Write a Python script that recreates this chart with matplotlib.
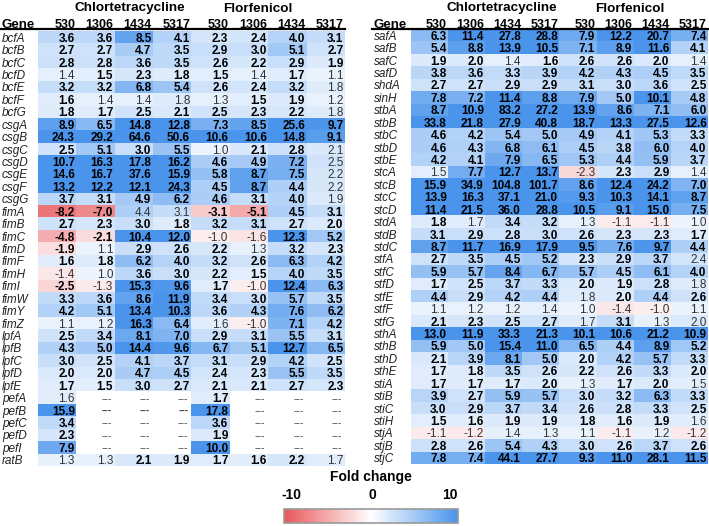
import numpy as np
import matplotlib.pyplot as plt
from matplotlib.colors import LinearSegmentedColormap

plt.rcParams['font.family'] = ['Liberation Sans', 'DejaVu Sans']
plt.rcParams['axes.unicode_minus'] = False

drugs = ['Chlortetracycline', 'Florfenicol']
strains = ['530', '1306', '1434', '5317']

# fold change per gene: CTC 530,1306,1434,5317 then FFC 530,1306,1434,5317 (None = ---)
genes_left = ['bcfA', 'bcfB', 'bcfC', 'bcfD', 'bcfE', 'bcfF', 'bcfG',
              'csgA', 'csgB', 'csgC', 'csgD', 'csgE', 'csgF', 'csgG',
              'fimA', 'fimB', 'fimC', 'fimD', 'fimF', 'fimH', 'fimI', 'fimW', 'fimY', 'fimZ',
              'lpfA', 'lpfB', 'lpfC', 'lpfD', 'lpfE',
              'pefA', 'pefB', 'pefC', 'pefD', 'pefI', 'ratB']
fc_left = [
    [3.6, 3.6, 8.5, 4.1, 2.3, 2.4, 4.0, 3.1],
    [2.7, 2.7, 4.7, 3.5, 2.9, 3.0, 5.1, 2.7],
    [2.8, 2.8, 3.6, 3.5, 2.6, 2.2, 2.9, 1.9],
    [1.4, 1.5, 2.3, 1.8, 1.5, 1.4, 1.7, 1.1],
    [3.2, 3.2, 6.8, 5.4, 2.6, 2.4, 3.2, 1.8],
    [1.6, 1.4, 1.4, 1.8, 1.3, 1.5, 1.9, 1.2],
    [1.8, 1.7, 2.5, 2.1, 2.5, 2.3, 2.2, 1.8],
    [8.9, 6.5, 14.8, 12.8, 7.3, 8.5, 25.6, 9.7],
    [24.3, 29.2, 64.6, 50.6, 10.6, 10.6, 14.8, 9.1],
    [2.5, 5.1, 3.0, 5.5, 1.0, 2.1, 2.8, 2.1],
    [10.7, 16.3, 17.8, 16.2, 4.6, 4.9, 7.2, 2.5],
    [14.6, 16.7, 37.6, 15.9, 5.8, 8.7, 7.5, 2.2],
    [13.2, 12.2, 12.1, 24.3, 4.5, 8.7, 4.4, 2.2],
    [3.7, 3.1, 4.9, 6.2, 4.6, 3.1, 4.0, 1.9],
    [-8.2, -7.0, 4.4, 3.1, -3.1, -5.1, 4.5, 3.1],
    [2.7, 2.3, 3.0, 1.8, 3.2, 3.1, 2.7, 2.0],
    [-4.8, -2.1, 10.4, 12.0, -1.0, -1.6, 12.3, 5.2],
    [-1.9, 1.1, 2.9, 2.6, 2.2, 1.3, 3.2, 2.3],
    [1.6, 1.8, 6.2, 4.0, 3.2, 2.6, 6.3, 4.2],
    [-1.4, 1.0, 3.6, 3.0, 2.2, 1.5, 4.0, 3.5],
    [-2.5, -1.3, 15.3, 9.6, 1.7, -1.0, 12.4, 6.3],
    [3.3, 3.6, 8.6, 11.9, 3.4, 3.0, 5.7, 3.5],
    [4.2, 5.1, 13.4, 10.3, 3.6, 4.3, 7.6, 6.2],
    [1.1, 1.2, 16.3, 6.4, 1.6, -1.0, 7.1, 4.2],
    [2.5, 3.4, 8.1, 7.0, 2.9, 3.1, 5.5, 3.1],
    [4.3, 5.0, 14.4, 9.6, 6.7, 5.1, 12.7, 6.5],
    [3.0, 2.5, 4.1, 3.7, 3.1, 2.9, 4.2, 2.5],
    [2.0, 2.0, 4.7, 4.5, 2.4, 2.3, 5.5, 3.5],
    [1.7, 1.5, 3.0, 2.7, 2.1, 2.1, 2.7, 2.3],
    [1.6, None, None, None, 1.7, None, None, None],
    [15.9, None, None, None, 17.8, None, None, None],
    [3.4, None, None, None, 3.6, None, None, None],
    [2.3, None, None, None, 1.9, None, None, None],
    [7.9, None, None, None, 10.0, None, None, None],
    [1.3, 1.3, 2.1, 1.9, 1.7, 1.6, 2.2, 1.7],
]
# b = bold (significant), n = normal weight
wt_left = ['bbbbbbbb', 'bbbbbbbb', 'bbbbbbbb', 'nbbbbnbn', 'bbbbbbbn', 'bnnnnbbn', 'bbbbbbbn',
           'bbbbbbbb', 'bbbbbbbb', 'bbbbnbbn', 'bbbbbbbn', 'bbbbbbbn', 'bbbbbbbn', 'bbbbbbbn',
           'bbnnbbbb', 'bbbbbbbb', 'bbbbnnbb', 'bnbbbnbb', 'bbbbbbbb', 'nnbbbbbb', 'bnbbbnbb',
           'bbbbbbbb', 'bbbbbbbb', 'nnbbnnbb',
           'bbbbbbbb', 'bbbbbbbb', 'bbbbbbbb', 'bbbbbbbb', 'bbbbbbbb',
           'nnnnbnnn', 'bbbbbnnn', 'bnnnbnnn', 'bnnnbnnn', 'bnnnbnnn', 'nnbbbbbn']

genes_right = ['safA', 'safB', 'safC', 'safD', 'shdA', 'sinH',
               'stbA', 'stbB', 'stbC', 'stbD', 'stbE',
               'stcA', 'stcB', 'stcC', 'stcD', 'stdA', 'stdB', 'stdC',
               'stfA', 'stfC', 'stfD', 'stfE', 'stfF', 'stfG',
               'sthA', 'sthB', 'sthD', 'sthE',
               'stiA', 'stiB', 'stiC', 'stiH', 'stjA', 'stjB', 'stjC']
fc_right = [
    [6.3, 11.4, 27.8, 28.8, 7.9, 12.2, 20.7, 7.4],
    [5.4, 8.8, 13.9, 10.5, 7.1, 8.9, 11.6, 4.1],
    [1.9, 2.0, 1.4, 1.6, 2.6, 2.6, 2.0, 1.4],
    [3.8, 3.6, 3.3, 3.9, 4.2, 4.3, 4.5, 3.5],
    [2.7, 2.7, 2.9, 2.9, 3.1, 3.0, 3.6, 2.5],
    [7.8, 7.2, 11.4, 8.8, 7.9, 5.0, 10.1, 4.8],
    [8.7, 10.9, 83.2, 27.2, 13.9, 8.6, 7.1, 6.0],
    [33.8, 21.8, 27.9, 40.8, 18.7, 13.3, 27.5, 12.6],
    [4.6, 4.2, 5.4, 5.0, 4.9, 4.1, 5.3, 3.3],
    [4.6, 4.3, 6.8, 6.1, 4.5, 3.8, 6.0, 4.0],
    [4.2, 4.1, 7.9, 6.5, 5.3, 4.4, 5.9, 3.7],
    [1.5, 7.7, 12.7, 13.7, -2.3, 2.3, 2.9, 1.4],
    [15.9, 34.9, 104.8, 101.7, 8.6, 12.4, 24.2, 7.0],
    [13.9, 16.3, 37.1, 21.0, 9.3, 10.3, 14.1, 8.7],
    [11.4, 21.5, 36.0, 28.8, 10.5, 9.1, 15.0, 7.5],
    [1.8, 1.7, 3.4, 3.2, 1.3, -1.1, -1.1, 1.0],
    [3.1, 2.9, 2.8, 3.0, 2.6, 2.3, 2.3, 1.7],
    [8.7, 11.7, 16.9, 17.9, 9.5, 7.6, 9.7, 4.4],
    [2.7, 3.5, 4.5, 5.2, 2.3, 2.9, 3.7, 2.4],
    [5.9, 5.7, 8.4, 6.7, 5.7, 4.5, 6.1, 4.0],
    [1.7, 2.5, 3.7, 3.3, 2.0, 1.9, 2.8, 1.8],
    [4.4, 2.9, 4.2, 4.4, 1.8, 2.0, 4.4, 2.6],
    [1.1, 1.2, 1.2, 1.4, 1.0, -1.4, -1.0, 1.1],
    [2.1, 2.3, 2.5, 2.7, 1.7, 3.1, 1.3, 2.0],
    [13.0, 11.9, 33.3, 21.3, 10.1, 10.6, 21.2, 10.9],
    [5.9, 5.0, 15.4, 11.0, 6.5, 4.4, 8.9, 5.2],
    [2.1, 3.9, 8.1, 5.0, 2.0, 4.2, 5.7, 3.3],
    [1.7, 1.8, 3.5, 2.6, 2.2, 2.6, 3.3, 2.0],
    [1.7, 1.7, 1.7, 2.0, 1.3, 1.7, 2.0, 1.5],
    [3.9, 2.7, 5.9, 5.7, 3.0, 3.2, 6.3, 3.3],
    [3.0, 2.9, 3.7, 3.4, 2.6, 2.8, 3.3, 2.5],
    [1.5, 1.6, 1.9, 1.9, 1.8, 1.6, 1.9, 1.6],
    [-1.1, -1.2, 1.4, 1.3, 1.1, -1.1, 1.2, -1.2],
    [2.8, 2.6, 5.4, 4.3, 3.0, 2.6, 3.7, 2.6],
    [7.8, 7.4, 44.1, 27.7, 9.3, 11.0, 28.1, 11.5],
]
wt_right = ['bbbbbbbb', 'bbbbbbbb', 'bbnbbbbn', 'bbbbbbbb', 'bbbbbbbb', 'bbbbbbbb',
            'bbbbbbbb', 'bbbbbbbb', 'bbbbbbbb', 'bbbbbbbb', 'bbbbbbbb',
            'nbbbnbbn', 'bbbbbbbb', 'bbbbbbbb', 'bbbbbbbb', 'bnbbnnnn', 'bbbbbbbb', 'bbbbbbbb',
            'bbbbbbbn', 'bbbbbbbb', 'bbbbbbbn', 'bbbbnbbb', 'nnnnnnnn', 'bbbbnbnn',
            'bbbbbbbb', 'bbbbbbbb', 'bbbbbbbb', 'bbbbbbbb',
            'bbbbnbbn', 'bbbbbbbb', 'bbbbbbbb', 'bbbbbbbn', 'nnnnnnnn', 'bbbbbbbb', 'bbbbbbbb']

W, H = 709, 526
fig = plt.figure(figsize=(W / 100, H / 100), dpi=100)
cmap = LinearSegmentedColormap.from_list('fc', ['#e8575b', '#ffffff', '#4a94ec'])


def px_axes(x0, y0, x1, y1):
    return fig.add_axes([x0 / W, 1 - y1 / H, (x1 - x0) / W, (y1 - y0) / H])


def draw_table(box, genes, vals, wts, name_x, title_x):
    x0, y0, x1, y1 = box
    ax = px_axes(*box)
    data = np.array([[np.nan if v is None else v for v in row] for row in vals], float)
    im = ax.imshow(np.ma.masked_invalid(data), cmap=cmap, vmin=-10, vmax=10,
                   aspect='auto', interpolation='nearest')
    ax.set_axis_off()
    cw = (x1 - x0) / 8
    rh = (y1 - y0) / len(genes)

    def dx(px):
        return -0.5 + (px - x0) / cw

    def dy(py):
        return -0.5 + (py - y0) / rh

    for i, g in enumerate(genes):
        ax.text(dx(name_x), i, g, style='italic', ha='left', va='center_baseline',
                fontsize=8.5, color='#222222')
        for j, v in enumerate(vals[i]):
            if v is None:
                ax.text(j + 0.42, i, '---', ha='right', va='center_baseline',
                        fontsize=7.5, color='#444444',
                        fontweight='bold' if wts[i][j] == 'b' else 'normal')
            else:
                bold = wts[i][j] == 'b'
                ax.text(j + 0.46, i, f'{v:.1f}', ha='right', va='center_baseline',
                        fontsize=8.5, fontweight='bold' if bold else 'normal',
                        color='black' if bold else '#333333')
    ax.text(dx(name_x), dy(23), 'Gene', fontweight='bold', fontsize=9.5,
            ha='left', va='center_baseline')
    for j, s in enumerate(strains * 2):
        ax.text(j + 0.47, dy(23), s, fontweight='bold', fontsize=9,
                ha='right', va='center_baseline')
    ax.plot([dx(name_x - 2), 7.5], [dy(28.5)] * 2, color='black', lw=1.6, clip_on=False)
    for k, d in enumerate(drugs):
        ax.text(dx(title_x[k]), dy(7), d, fontsize=9.7, fontweight='bold',
                ha='center', va='center_baseline')
    ax.set_xlim(-0.5, 7.5)
    ax.set_ylim(len(genes) - 0.5, -0.5)
    return im


im = draw_table((38, 31, 345, 466), genes_left, fc_left, wt_left, 2, (130, 258))
draw_table((411, 29, 708, 464), genes_right, fc_right, wt_right, 374, (502, 630))

cax = px_axes(284, 509, 458, 523)
cb = fig.colorbar(im, cax=cax, orientation='horizontal')
cax.xaxis.set_ticks_position('top')
cax.set_xticks([-9.1, 0.2, 9.1], ['-10', '0', '10'])
cax.tick_params(length=0, pad=5, labelsize=10)
for t in cax.get_xticklabels():
    t.set_fontweight('bold')
cax.xaxis.set_label_position('top')
cax.set_xlabel('Fold change', fontsize=10, fontweight='bold', labelpad=5)
cb.outline.set_edgecolor('#999999')
cb.outline.set_linewidth(1.2)

fig.savefig('out.png', dpi=100)
